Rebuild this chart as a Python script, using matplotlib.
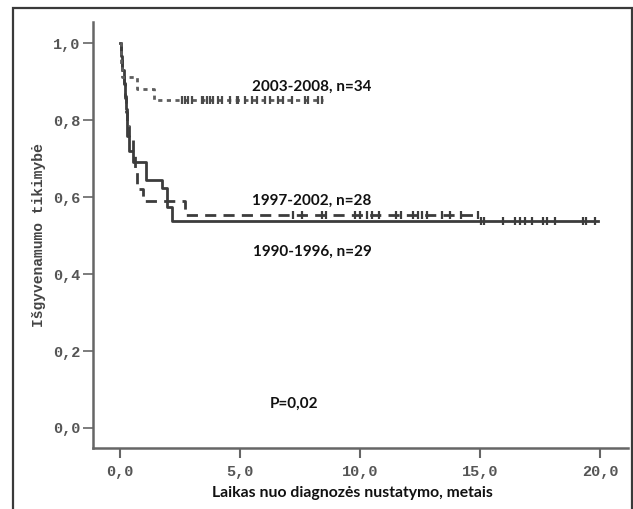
import matplotlib
matplotlib.use("Agg")
import matplotlib.pyplot as plt
from matplotlib.patches import Rectangle

# ---- data ----
t_1990 = [0, 0.05, 0.10, 0.15, 0.20, 0.24, 0.28, 0.31, 0.36, 0.55, 1.10, 1.75, 1.95, 2.15, 19.9]
s_1990 = [1.0, 0.966, 0.931, 0.897, 0.862, 0.828, 0.793, 0.759, 0.72, 0.69, 0.645, 0.623, 0.574, 0.537, 0.537]
c_1990 = [15.03, 15.17, 15.96, 16.46, 16.67, 16.88, 17.17, 17.63, 17.79, 18.13, 19.29, 19.42, 19.79]

t_1997 = [0, 0.05, 0.10, 0.15, 0.20, 0.25, 0.30, 0.38, 0.55, 0.62, 0.72, 0.95, 2.7, 14.9]
s_1997 = [1.0, 0.964, 0.929, 0.893, 0.857, 0.821, 0.786, 0.75, 0.714, 0.665, 0.62, 0.59, 0.553, 0.553]
c_1997 = [7.2, 7.6, 8.4, 8.6, 9.8, 10.0, 10.3, 10.5, 10.8, 11.5, 11.7, 12.2, 12.4,
          12.6, 12.8, 13.4, 13.75, 14.2, 14.9]

t_2003 = [0, 0.03, 0.06, 0.10, 0.70, 1.40, 8.45]
s_2003 = [1.0, 0.971, 0.941, 0.912, 0.882, 0.853, 0.853]
c_2003 = [2.57, 2.71, 2.83, 2.99, 3.40, 3.46, 3.61, 3.75, 3.88, 4.08, 4.24, 4.58,
          4.86, 4.92, 5.21, 5.50, 5.71, 6.04, 6.25, 6.58, 6.79, 7.17, 7.71, 7.83,
          8.25, 8.42]

x_ticks = [0, 5, 10, 15, 20]
x_tick_labels = ["0,0", "5,0", "10,0", "15,0", "20,0"]
y_ticks = [0.0, 0.2, 0.4, 0.6, 0.8, 1.0]
y_tick_labels = ["0,0", "0,2", "0,4", "0,6", "0,8", "1,0"]

labels = ["1990-1996, n=29", "1997-2002, n=28", "2003-2008, n=34"]
p_text = "P=0,02"
x_label = "Laikas nuo diagnozės nustatymo, metais"
y_label = "Išgyvenamumo tikimybė"


def surv_at(ts, ss, x):
    val = ss[0]
    for t, s in zip(ts, ss):
        if t <= x:
            val = s
    return val


W, H = 633, 509
fig = plt.figure(figsize=(W / 100, H / 100), dpi=100)
fig.patch.set_facecolor("white")

# outer frame
fig.patches.append(Rectangle((13 / W, -0.05), (632 - 13) / W, (509 - 8) / H + 0.05,
                             transform=fig.transFigure, fill=False,
                             edgecolor="#3a3a3a", linewidth=1.6, clip_on=False))

ax = fig.add_axes([93 / W, (509 - 448) / H, (628 - 93) / W, (448 - 22) / H])
ax.set_xlim(-1.125, 21.17)
ax.set_ylim(-0.052, 1.055)

# curves
ax.step(t_1990, s_1990, where="post", color="#3c3c3c", lw=2.0, zorder=3)
ax.step(t_1997, s_1997, where="post", color="#3c3c3c", lw=2.0,
        linestyle=(0, (4, 2.6)), zorder=4)
ax.step(t_2003, s_2003, where="post", color="#5e5e5e", lw=2.0,
        linestyle=(0, (1.5, 1.6)), zorder=4)

# censor marks
mk = dict(linestyle="none", marker="|", markersize=5.5, mew=1.6, zorder=5)
ax.plot(c_1990, [surv_at(t_1990, s_1990, c) for c in c_1990], color="#3c3c3c", **mk)
ax.plot(c_1997, [surv_at(t_1997, s_1997, c) for c in c_1997], color="#3c3c3c", **mk)
ax.plot(c_2003, [surv_at(t_2003, s_2003, c) for c in c_2003], color="#4a4a4a", **mk)

# annotations
ann_font = dict(family="Lato", fontweight="bold", fontsize=11, color="#111111")
ax.text(8.0, 0.886, labels[2], ha="center", va="center", **ann_font)
ax.text(8.0, 0.590, labels[1], ha="center", va="center", **ann_font)
ax.text(8.0, 0.457, labels[0], ha="center", va="center", **ann_font)
ax.text(7.24, 0.062, p_text, ha="center", va="center", **ann_font)

# axes styling
for side in ("top", "right"):
    ax.spines[side].set_visible(False)
for side in ("left", "bottom"):
    ax.spines[side].set_color("#666666")
    ax.spines[side].set_linewidth(1.8)

ax.set_xticks(x_ticks)
ax.set_xticklabels(x_tick_labels)
ax.set_yticks(y_ticks)
ax.set_yticklabels(y_tick_labels)
ax.tick_params(axis="x", direction="out", length=7.5, width=1.5, color="#666666", pad=5)
ax.tick_params(axis="y", direction="out", length=7, width=1.2, color="#666666", pad=2)
for lab in ax.get_xticklabels() + ax.get_yticklabels():
    lab.set_family("Liberation Mono")
    lab.set_fontweight("bold")
    lab.set_fontsize(11)
    lab.set_color("#555555")

fig.text(352 / W, 1 - 493 / H, x_label, ha="center", va="center",
         family="Lato", fontweight="bold", fontsize=11.3, color="#111111")
fig.text(39 / W, 1 - 235 / H, y_label, ha="center", va="center", rotation=90,
         family="Liberation Mono", fontweight="bold", fontsize=10.5, color="#444444")

fig.savefig("out.png", dpi=100, facecolor="white")
